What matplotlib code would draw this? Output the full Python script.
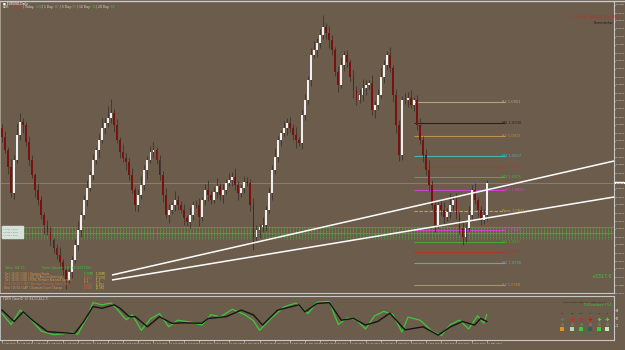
import numpy as np
import matplotlib
matplotlib.use("Agg")
import matplotlib.pyplot as plt
from matplotlib.patches import Rectangle
from matplotlib.ticker import MultipleLocator, FormatStrFormatter

# ---- data ----
symbol = "EURUSD,Daily"
first_open = 1.0925
closes = [
    1.0916, 1.0903, 1.0886, 1.0860, 1.0893, 1.0918, 1.0931, 1.0928, 1.0911, 1.0893,
    1.0878, 1.0863, 1.0853, 1.0838, 1.0828, 1.0821, 1.0813, 1.0805, 1.0798, 1.0791,
    1.0783, 1.0773, 1.0781, 1.0793, 1.0808, 1.0823, 1.0838, 1.0853, 1.0865, 1.0878,
    1.0893, 1.0903, 1.0913, 1.0925, 1.0930, 1.0935, 1.0940, 1.0928, 1.0913, 1.0901,
    1.0895, 1.0891, 1.0878, 1.0863, 1.0848, 1.0858, 1.0868, 1.0883, 1.0893, 1.0901,
    1.0903, 1.0893, 1.0878, 1.0858, 1.0838, 1.0843, 1.0848, 1.0853, 1.0848, 1.0843,
    1.0835, 1.0831, 1.0838, 1.0848, 1.0848, 1.0836, 1.0853, 1.0863, 1.0858, 1.0853,
    1.0861, 1.0867, 1.0858, 1.0863, 1.0870, 1.0873, 1.0876, 1.0868, 1.0860, 1.0865,
    1.0871, 1.0870, 1.0848, 1.0816, 1.0823, 1.0826, 1.0828, 1.0843, 1.0860, 1.0883,
    1.0896, 1.0913, 1.0920, 1.0925, 1.0930, 1.0925, 1.0918, 1.0913, 1.0910, 1.0938,
    1.0953, 1.0973, 1.0998, 1.1003, 1.1010, 1.1018, 1.1026, 1.1020, 1.1013, 1.1003,
    1.0981, 1.0968, 1.0988, 1.0998, 1.0991, 1.0976, 1.0963, 1.0953, 1.0958, 1.0965,
    1.0968, 1.0970, 1.0943, 1.0948, 1.0958, 1.0976, 1.0988, 1.0998, 1.0985, 1.0958,
    1.0928, 1.0898, 1.0953, 1.0953, 1.0955, 1.0948, 1.0953, 1.0928, 1.0913, 1.0898,
    1.0883, 1.0868, 1.0848, 1.0828, 1.0848, 1.0843, 1.0836, 1.0841, 1.0848, 1.0853,
    1.0838, 1.0825, 1.0816, 1.0825, 1.0838, 1.0863, 1.0853, 1.0843, 1.0833, 1.0838,
    1.0870,
]
# wick lengths above / below the body, in pips
wick_up = [
    4, 6, 3, 8, 5, 12, 9, 4, 3, 6,
    5, 2, 7, 4, 3, 5, 6, 2, 4, 8,
    3, 5, 7, 4, 6, 9, 3, 5, 8, 4,
    6, 3, 7, 10, 5, 12, 14, 4, 6, 3,
    8, 5, 4, 7, 3, 6, 9, 5, 4, 6,
    8, 3, 5, 4, 7, 6, 3, 9, 5, 4,
    6, 3, 8, 4, 5, 7, 3, 6, 10, 4,
    5, 8, 3, 6, 4, 7, 5, 9, 4, 3,
    6, 5, 4, 7, 5, 3, 8, 4, 6, 5,
    9, 4, 3, 7, 5, 6, 4, 8, 3, 5,
    6, 4, 7, 9, 5, 6, 12, 4, 7, 5,
    3, 6, 8, 4, 5, 3, 7, 4, 6, 9,
    5, 3, 8, 4, 6, 10, 5, 4, 8, 3,
    6, 5, 4, 7, 6, 8, 3, 5, 7, 4,
    6, 10, 5, 4, 3, 6, 8, 4, 12, 5,
    7, 3, 6, 4, 9, 5, 7, 3, 4, 6,
    3,
]
wick_dn = [
    5, 3, 7, 4, 6, 3, 5, 8, 4, 6,
    3, 7, 5, 4, 9, 3, 6, 5, 4, 7,
    5, 9, 4, 6, 3, 5, 7, 4, 6, 3,
    5, 4, 8, 3, 6, 4, 5, 7, 3, 6,
    4, 8, 5, 3, 6, 7, 4, 5, 9, 3,
    6, 4, 5, 7, 3, 8, 4, 6, 5, 3,
    7, 4, 6, 5, 3, 9, 4, 5, 6, 4,
    3, 6, 5, 8, 4, 3, 6, 5, 7, 4,
    5, 3, 6, 13, 4, 8, 5, 6, 3, 7,
    4, 5, 6, 3, 7, 4, 5, 8, 3, 6,
    5, 4, 6, 3, 7, 5, 4, 6, 8, 5,
    4, 7, 3, 6, 5, 4, 8, 5, 3, 6,
    7, 4, 5, 8, 4, 3, 6, 5, 4, 7,
    8, 6, 5, 4, 7, 3, 6, 5, 4, 7,
    5, 6, 4, 7, 3, 5, 8, 4, 6, 5,
    4, 6, 8, 5, 3, 6, 4, 7, 5, 4,
    5,
]
date_labels = [
    "3 Aug 2016", "10 Aug 2016", "17 Aug 2016", "24 Aug 2016", "31 Aug 2016",
    "7 Sep 2016", "14 Sep 2016", "21 Sep 2016", "28 Sep 2016", "5 Oct 2016",
    "12 Oct 2016", "19 Oct 2016", "26 Oct 2016", "2 Nov 2016", "9 Nov 2016",
    "16 Nov 2016", "23 Nov 2016", "30 Nov 2016", "7 Dec 2016", "14 Dec 2016",
    "21 Dec 2016", "28 Dec 2016", "4 Jan 2017", "11 Jan 2017", "18 Jan 2017",
    "25 Jan 2017", "1 Feb 2017", "8 Feb 2017", "15 Feb 2017", "22 Feb 2017",
    "1 Mar 2017", "8 Mar 2017", "15 Mar 2017",
]

# pivot / murrey levels on the right
level_names = ["R3", "M5", "R2", "M4", "R1", "M3", "mR1", "Pivot", "S1", "M2", "S2", "M1", "S3"]
level_prices = [1.0951, 1.0930, 1.0917, 1.0897, 1.0886, 1.0876, 1.0863,
                1.0842, 1.0823, 1.0811, 1.0801, 1.0790, 1.0768]
level_colors = ["#b4a67a", "#2a221c", "#c0904e", "#3fb8b0", "#a8402c", "#45b035", "#c845c8",
                "#bcae30", "#c845c8", "#42a832", "#a83a2c", "#3fb8b0", "#c08a40"]

# trend lines (candle index, price)
trend_x = [36.3, 202]
trend_upper = [1.0778, 1.0892]
trend_lower = [1.0773, 1.0856]

zone_lo, zone_hi = 1.0814, 1.0826

# TDI oscillator
black_x = [0, 4, 7, 10, 15, 19, 24, 27, 30, 33, 37, 39, 42, 44, 48, 52, 56, 60, 66, 68,
           74, 79, 83, 86, 91, 98, 100, 104, 108, 112, 116, 120, 124, 128, 133, 139, 144, 148,
           152, 156, 158, 160]
black_vals = [68, 42, 64, 45, 19, 17, 15, 42, 76, 72, 80, 72, 53, 53, 30, 53, 38, 39, 38, 49,
              53, 68, 57, 34, 68, 80, 64, 83, 85, 45, 49, 34, 42, 61, 23, 30, 11, 30, 42, 34,
              49, 42]
green_x = [0, 3, 6, 9, 13, 17, 20, 23, 25, 28, 30, 33, 36, 38, 41, 43, 46, 49, 52, 55,
           58, 62, 66, 69, 72, 76, 80, 83, 85, 89, 93, 97, 101, 104, 108, 111, 114, 117, 120, 123,
           126, 129, 132, 134, 138, 142, 145, 148, 151, 154, 157, 159, 160]
green_vals = [60, 35, 68, 50, 20, 12, 14, 18, 13, 50, 85, 80, 84, 70, 46, 57, 22, 48, 60, 30,
              45, 41, 34, 58, 52, 70, 58, 44, 22, 50, 75, 84, 60, 86, 88, 35, 50, 45, 25, 55,
              65, 58, 18, 52, 45, 20, 10, 35, 45, 25, 55, 38, 58]

bg = "#6c5c4b"
fg = "#dcdcdc"
W, H = 625, 350


def fpx(x0, y0, x1, y1):
    # pixel box (top-left origin) -> figure fraction rect
    return [x0 / W, 1 - y1 / H, (x1 - x0) / W, (y1 - y0) / H]


fig = plt.figure(figsize=(6.25, 3.5), dpi=100, facecolor=bg)
ax = fig.add_axes(fpx(0, 2, 614, 293), facecolor=bg)
ax2 = fig.add_axes(fpx(0, 296, 614, 340), facecolor=bg)
xmin, xmax = -0.66, 202

# ---- candles ----
closes = np.array(closes)
opens = np.concatenate([[first_open], closes[:-1]])
idx = np.arange(len(closes))
top = np.maximum(opens, closes)
bot = np.minimum(opens, closes)
highs = top + np.array(wick_up) * 0.0001
lows = bot - np.array(wick_dn) * 0.0001
bull = closes >= opens

ax.vlines(idx, lows, highs, color="#3b342c", lw=0.6, zorder=3)
ax.bar(idx, np.maximum(top - bot, 0.00004), bottom=bot, width=0.62,
       color=np.where(bull, "#f0f0f0", "#7a1010"), zorder=4, linewidth=0)

# bid line
ax.axhline(closes[-1], color="#8c7c69", lw=0.7, zorder=1)

# green zone
zone_idx = np.arange(0, int(xmax) + 1)
ax.vlines(zone_idx, zone_lo, zone_hi, color="#3dbb3d", lw=0.55, linestyles=(0, (1.2, 0.8)), zorder=2)
ax.hlines([zone_hi, (zone_lo + zone_hi) / 2], xmin, xmax, color="#5fd05f", lw=0.4,
          linestyles=(0, (2, 1)), zorder=2)

# levels
for name, p, c in zip(level_names, level_prices, level_colors):
    ls = (0, (3, 1.5)) if name == "Pivot" else "-"
    ax.hlines(p, 136, 166, color=c, lw=0.8, linestyles=ls, zorder=2)
    ax.text(165, p, f"{name} {p:.4f}", color=c, fontsize=2.6, va="center", ha="left", zorder=6)

# trend lines
ax.plot(trend_x, trend_upper, color="white", lw=1.1, zorder=5, solid_capstyle="butt")
ax.plot(trend_x, trend_lower, color="white", lw=1.1, zorder=5, solid_capstyle="butt")

ax.set_xlim(xmin, xmax)
ax.set_ylim(1.0760, 1.1051)
ax.yaxis.tick_right()
ax.yaxis.set_major_locator(MultipleLocator(0.0008))
ax.yaxis.set_major_formatter(FormatStrFormatter("%.5f"))
ax.tick_params(axis="y", colors=fg, labelsize=1.65, length=1.0, width=0.5, pad=0.5)
ax.set_xticks([])
ax.spines["top"].set_visible(False)
for s in ["right", "bottom"]:
    ax.spines[s].set_color("#c8c8c8")
    ax.spines[s].set_linewidth(0.8)
ax.spines["left"].set_color("#b0a898")
ax.spines["left"].set_linewidth(0.6)

# current price box
ax.annotate(f"{closes[-1]:.5f}", xy=(1.0, closes[-1]), xycoords=("axes fraction", "data"),
            xytext=(0.9, 0), textcoords="offset points", fontsize=1.65, color="black",
            va="center", ha="left", annotation_clip=False,
            bbox=dict(boxstyle="square,pad=0.15", fc="white", ec="none"))

# ---- oscillator ----
ax2.plot(green_x, green_vals, color="#3cc83c", lw=0.9, zorder=3)
ax2.plot(black_x, black_vals, color="#151515", lw=1.0, zorder=4)
ax2.set_xlim(xmin, xmax)
ax2.set_ylim(0, 100)
ax2.yaxis.tick_right()
ax2.set_yticks([32, 50, 68])
ax2.set_yticklabels(["32", "50", "68"])
ax2.tick_params(axis="y", colors=fg, labelsize=1.9, length=1.0, width=0.5, pad=0.5)
ax2.set_xticks(np.arange(len(date_labels)) * 5)
ax2.set_xticklabels(date_labels, fontsize=1.75, color=fg, ha="left")
ax2.tick_params(axis="x", colors=fg, length=1.2, width=0.5, pad=1)
for s in ax2.spines.values():
    s.set_color("#c8c8c8")
    s.set_linewidth(0.8)
ax2.spines["left"].set_linewidth(0.6)

# ---- overlay texts in pixel coords ----
ov = fig.add_axes([0, 0, 1, 1], facecolor="none")
ov.set_xlim(0, W)
ov.set_ylim(H, 0)
ov.axis("off")
ov.plot([0, W], [0.5, 0.5], color="#c8c8c8", lw=1)

ov.text(3, 3.5, "\u25a0 " + symbol, color="white", fontsize=2.2, va="center")

# ADR line: pieces chained one after the other
adr_parts = [("ADR:", fg), ("102 Pts", "#e03030"), ("| Today:", fg), ("104", "#40c840"),
             ("| 1 Day:", fg), ("87", "#40c840"), ("| 5 Day:", fg), ("75", "#40c840"),
             ("| 10 Day:", fg), ("71", "#40c840"), ("| 20 Day:", fg), ("65", "#40c840")]
prev = ov.text(3, 7, adr_parts[0][0], color=adr_parts[0][1], fontsize=2.2, va="center")
for t, c in adr_parts[1:]:
    prev = ov.annotate(" " + t, xy=(1, 0.5), xycoords=prev, color=c, fontsize=2.2,
                       va="center", ha="left")

ov.text(570, 17, "1:15:15  AUDNZD: 08", color="#e02020", fontsize=3.2, va="center")
ov.text(594, 23, "Dreamcatcher", color="#1e1a16", fontsize=2.0, va="center")
ov.text(592, 277, "+3317.0", color="#40c840", fontsize=3.4, va="center")

# small panel at left of the zone
ov.add_patch(Rectangle((2, 226), 21, 12, color="#d5e2da", zorder=2))
for k, c in enumerate(["#5aa0a0", "#a07050", "#5aa0a0"]):
    ov.text(3, 229 + 3.5 * k, "1.0xxx 1.0xxx", color=c, fontsize=1.5, va="center")

# news block
ov.text(4, 268, "Time: 04:11", color="#40c840", fontsize=2.5, va="center")
ov.text(42, 268, "Forex Calendar  GMT+2 (2017.03)", color="#40c840", fontsize=2.1, va="center")
news_rows = ["Tue | 15:00 | USD | Housing Starts",
             "Tue | 15:00 | USD | 10Y TO Auction/Earnings",
             "Tue | 15:00 | USD | FOMC Member Brainard Speaks",
             "Wed | 15:00 | USD | Average Earnings Index 3m/y",
             "Wed | 15:00 | GBP | Claimant Count Change"]
news_colors = ["#d09a5a", "#d09a5a", "#d09a5a", "#e0603c", "#d09a5a"]
news_act = ["[1.05M]", "[0.8%]", "[---]", "[2.0%]", "[-3.0K]"]
news_act_c = ["#40c840", "#e0603c", "#d8c840", "#e0603c", "#e0603c"]
news_fc = ["[1.08M]", "[2.12%]", "[---]", "[2.1%]", "[-1.5K]"]
for k in range(len(news_rows)):
    y = 273.5 + 3.5 * k
    ov.text(4, y, news_rows[k], color=news_colors[k], fontsize=1.9, va="center")
    ov.text(84, y, news_act[k], color=news_act_c[k], fontsize=1.9, va="center")
    ov.text(96, y, news_fc[k], color="#d8c840", fontsize=1.9, va="center")

# oscillator header and signal grid
ov.text(3, 299, "TDI(F) Close(0) 13 (34,13,34,2,7)", color=fg, fontsize=2.0, va="center")
ov.text(563, 302, "TDI Hooking Angle: 82\u00b0  Status: Bull 5Y", color="#1e1a16", fontsize=1.6, va="center")
ov.text(584, 305.5, "TDI Crossover: P 9.5", color="#40c840", fontsize=2.0, va="center")
tf_names = ["M1", "M5", "M15", "H1", "H4", "D1"]
tf_x = [562, 572, 581, 590, 599, 607]
row1 = ["#7a6c5c", "#e02020", "#e02020", "#d01818", "#30e030", "#30e030"]
row2 = ["#7e6e5e"] * 6
row3 = ["#e89020", "#a8e0a8", "#30d030", "#2e5e5e", "#30d030", "#b8f0b8"]
for x, n, c1, c2, c3 in zip(tf_x, tf_names, row1, row2, row3):
    ov.text(x, 313, n, color="#2a2420", fontsize=1.6, va="center", ha="center")
    ov.plot(x, 318.5, marker="P", ms=2.6, color=c1, mew=0)
    ov.plot(x, 323.5, marker="o", ms=2.2, color=c2, mew=0)
    ov.plot(x, 329, marker="s", ms=2.2, color=c3, mew=0)

fig.savefig("out.png", dpi=100, facecolor=bg)
